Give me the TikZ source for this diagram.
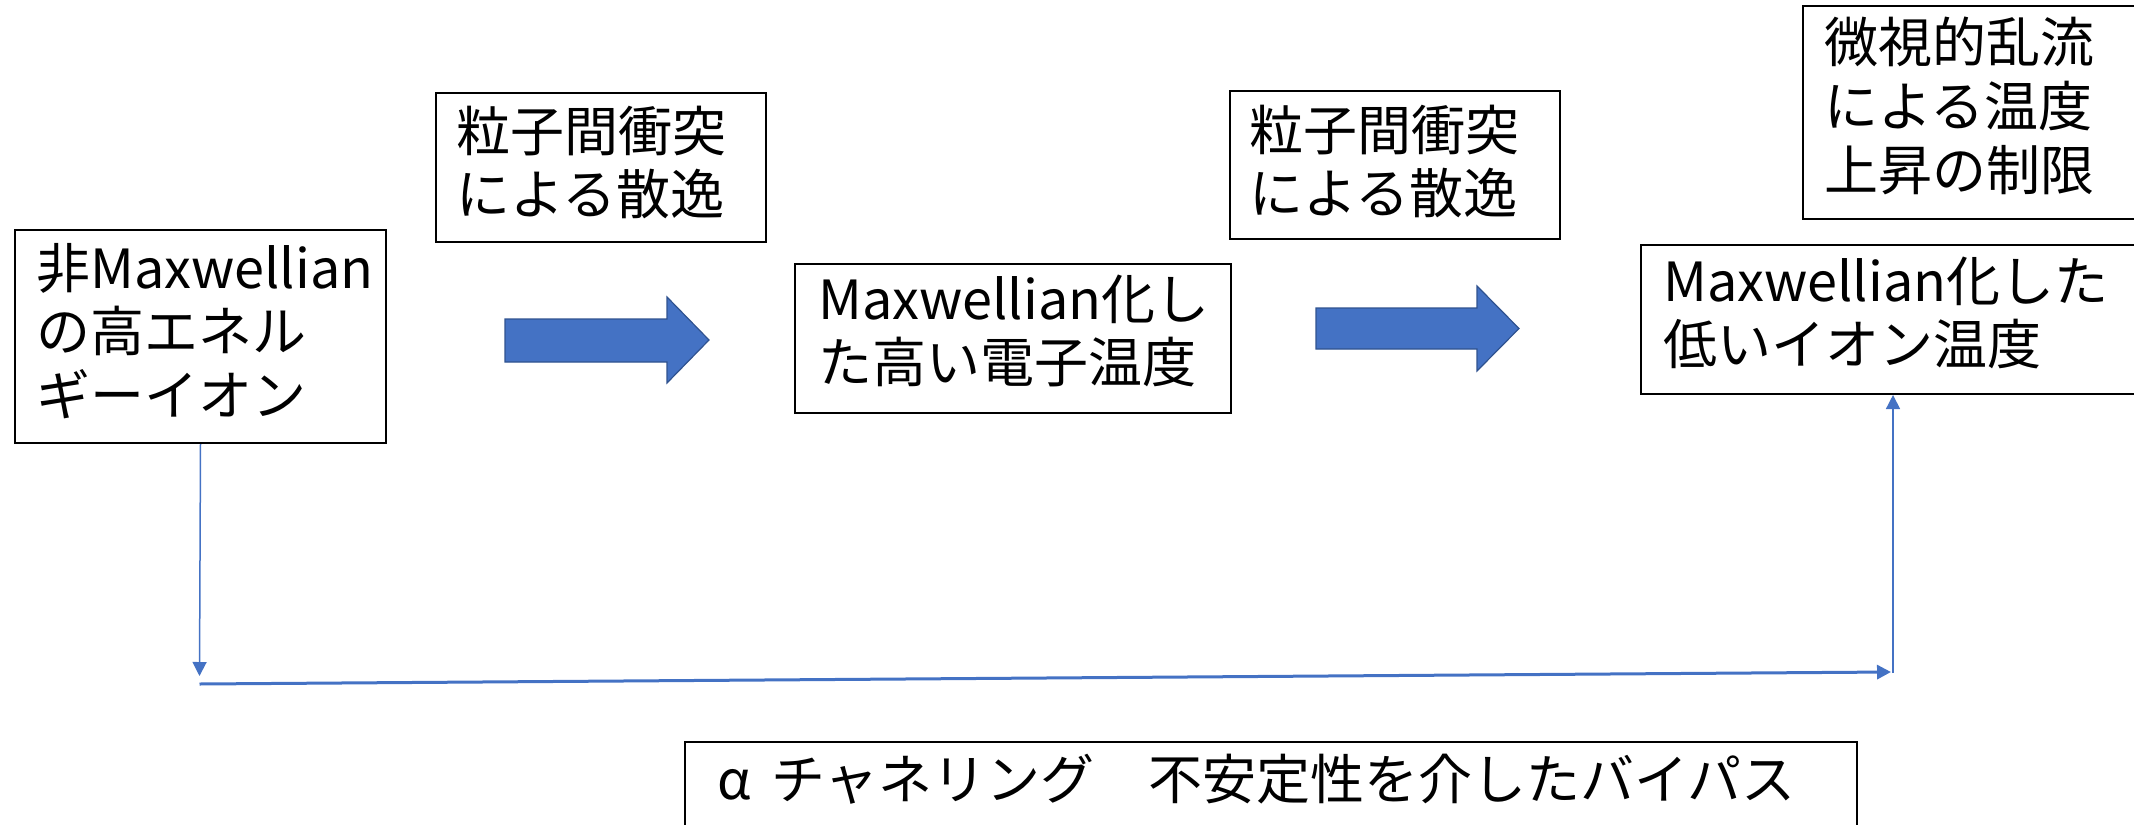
\documentclass[tikz,border=0pt]{standalone}
\usepackage{fontspec}
\setmainfont{Noto Sans CJK JP}
\usetikzlibrary{arrows.meta}
\definecolor{oblue}{HTML}{4472C4}
\definecolor{obluedark}{HTML}{2F528F}
\newcommand{\mlines}[1]{\vtop{\lineskiplimit=-100pt\halign{##\hfil\cr#1\crcr}}}
\begin{document}
\begin{tikzpicture}[x=0.5pt,y=-0.5pt,
  box/.style={draw=black, line width=1pt, fill=none, anchor=north west, inner sep=0pt},
  txt/.style={anchor=base west, inner sep=0pt, font=\fontsize{27pt}{31.75pt}\selectfont},
  blockarrow/.style={fill=oblue, draw=obluedark, line width=0.6pt, line join=miter},
  conn/.style={draw=oblue, line width=0.75pt, -{Triangle[length=7pt,width=7pt]}}]
\useasboundingbox (0,0) rectangle (2134,824);
\clip (0,0) rectangle (2134,824);
% boxes
\node[box, minimum width=185.5pt, minimum height=106.5pt] (A) at (14,229) {};
\node[box, minimum width=165pt, minimum height=74.5pt] (B1) at (435,92) {};
\node[box, minimum width=218pt, minimum height=74.5pt] (C) at (794,263) {};
\node[box, minimum width=165pt, minimum height=74pt] (B2) at (1229,90) {};
\node[box, minimum width=200pt, minimum height=106.5pt] (D) at (1802,5) {};
\node[box, minimum width=300pt, minimum height=74.5pt] (E) at (1640,244) {};
\node[box, minimum width=586pt, minimum height=100pt] (F) at (684,741) {};
% texts
\node[txt] (At) at (36,288) {\mlines{非Maxwellian\cr の高エネル\cr ギーイオン}};
\node[txt] (B1t) at (456,151) {\mlines{粒子間衝突\cr による散逸}};
\node[txt] (Ct) at (818,319) {\mlines{Maxwellian化し\cr た高い電子温度}};
\node[txt] (B2t) at (1249,150) {\mlines{粒子間衝突\cr による散逸}};
\node[txt] (Dt) at (1824,63) {\mlines{微視的乱流\cr による温度\cr 上昇の制限}};
\node[txt] (Et) at (1663,301) {\mlines{Maxwellian化した\cr 低いイオン温度}};
\node[txt] (Ft) at (717,799) {\makebox[27pt][l]{α}チャネリング　不安定性を介したバイパス};
% block arrows
\draw[blockarrow] (505,319) -- (667,319) -- (667,297) -- (709,340) -- (667,383) -- (667,362) -- (505,362) -- cycle;
\draw[blockarrow] (1316,308) -- (1477,308) -- (1477,286) -- (1519,328.5) -- (1477,371) -- (1477,349) -- (1316,349) -- cycle;
% connectors
\coordinate (p1) at (199.5,676);
\coordinate (h1) at (199.5,684);
\coordinate (h2) at (1891,672);
\coordinate (v1) at (1893,673);
\draw[conn] (A.south) -- (p1);
\draw[conn, line width=1.5pt] (h1) -- (h2);
\draw[conn] (v1) -- (v1 |- E.south);
\end{tikzpicture}
\end{document}
